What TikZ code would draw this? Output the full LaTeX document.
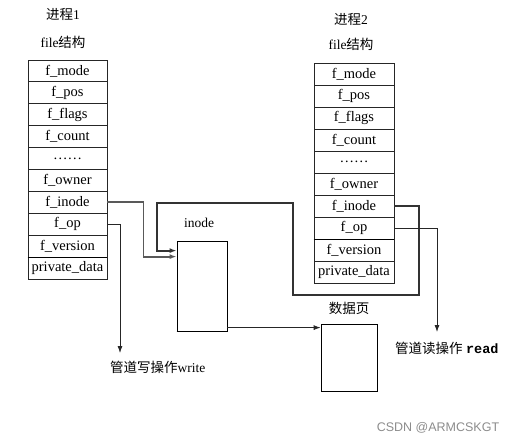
\documentclass[tikz,border=0pt]{standalone}
\usepackage{fontspec}
\setmainfont{Liberation Serif}
\newfontfamily\cjk{Noto Sans CJK SC}
\newfontfamily\wmfont{Liberation Sans}
\newfontfamily\monob{Liberation Mono}
\usetikzlibrary{arrows.meta,calc}
\begin{document}
\begin{tikzpicture}[x=1pt,y=-1pt,
  rowL/.style={draw=black!85,line width=0.8pt,minimum width=79pt,minimum height=21.9pt,inner sep=0pt,font=\fontsize{14.5}{15}\selectfont},
  rowR/.style={draw=black!85,line width=0.8pt,minimum width=80pt,minimum height=22pt,inner sep=0pt,font=\fontsize{14.5}{15}\selectfont},
  lbl/.style={inner sep=0pt,font=\fontsize{13.5}{14}\selectfont},
  box/.style={draw=black,line width=0.8pt,inner sep=0pt},
  conn/.style={line width=0.8pt,draw=black!85},
  thickconn/.style={line width=1.8pt,draw=black!65},
  tip/.style={-{Latex[length=7pt,width=5pt]}}
]
\useasboundingbox (0,0) rectangle (514,444);
% titles
\node[lbl] (t1) at (63,14) {{\cjk 进程}1};
\node[lbl] (f1) at (63,42) {file{\cjk 结构}};
\node[lbl] (t2) at (351,19) {{\cjk 进程}2};
\node[lbl] (f2) at (351,44) {file{\cjk 结构}};
% left table
\foreach \i/\t in {1/f\_mode,2/f\_pos,3/f\_flags,4/f\_count,5/\ldots\ldots,6/f\_owner,7/f\_inode,8/f\_op,9/f\_version,10/private\_data}{
  \node[rowL] (L\i) at (67.5,{60+21.9*(\i-0.5)}) {\t};
}
% right table
\foreach \i/\t in {1/f\_mode,2/f\_pos,3/f\_flags,4/f\_count,5/\ldots\ldots,6/f\_owner,7/f\_inode,8/f\_op,9/f\_version,10/private\_data}{
  \node[rowR] (R\i) at (354,{63+22*(\i-0.5)}) {\t};
}
\draw[line width=1.6pt] (L9.south west) -- (L9.south east);
\draw[line width=1.6pt] (R8.south west) -- (R8.south east);
% inode and data page
\node[box,minimum width=50pt,minimum height=90pt] (inode) at (202,286) {};
\node[lbl] (inl) at (199,223) {inode};
\node[box,minimum width=56pt,minimum height=67pt] (data) at (349,357.5) {};
\node[lbl] (dl) at (349,308) {\cjk 数据页};
\draw[line width=1.6pt] (inode.south west) -- (inode.south east);
% texts
\node[lbl,anchor=west] (wr) at (110,367) {{\cjk 管道写操作}write};
\node[lbl,anchor=west] (rd) at (395,348) {{\cjk 管道读操作} {\monob\bfseries read}};
\node[inner sep=0pt,font=\wmfont\fontsize{12.5}{13}\selectfont,text=black!45] (wm) at (438,428) {CSDN @ARMCSKGT};
% connectors
\coordinate (wtip) at (120,353);
\coordinate (rtip) at (437,332);
\draw[thickconn,tip] (L7.east) -- ++(36,0) |- ([yshift=-16pt]inode.north west);
\draw[thickconn,draw=black!80,tip] (R7.east) -| (419,295) -| (293,203) -- (157,203) |- ([yshift=-10pt]inode.north west);
\draw[conn,tip] (L8.east) -| (wtip);
\draw[conn,tip] (R8.east) -| (rtip);
\coordinate (dIn) at ([yshift=-4pt]data.north west);
\draw[conn,tip] (dIn -| inode.east) -- (dIn);
\end{tikzpicture}
\end{document}
